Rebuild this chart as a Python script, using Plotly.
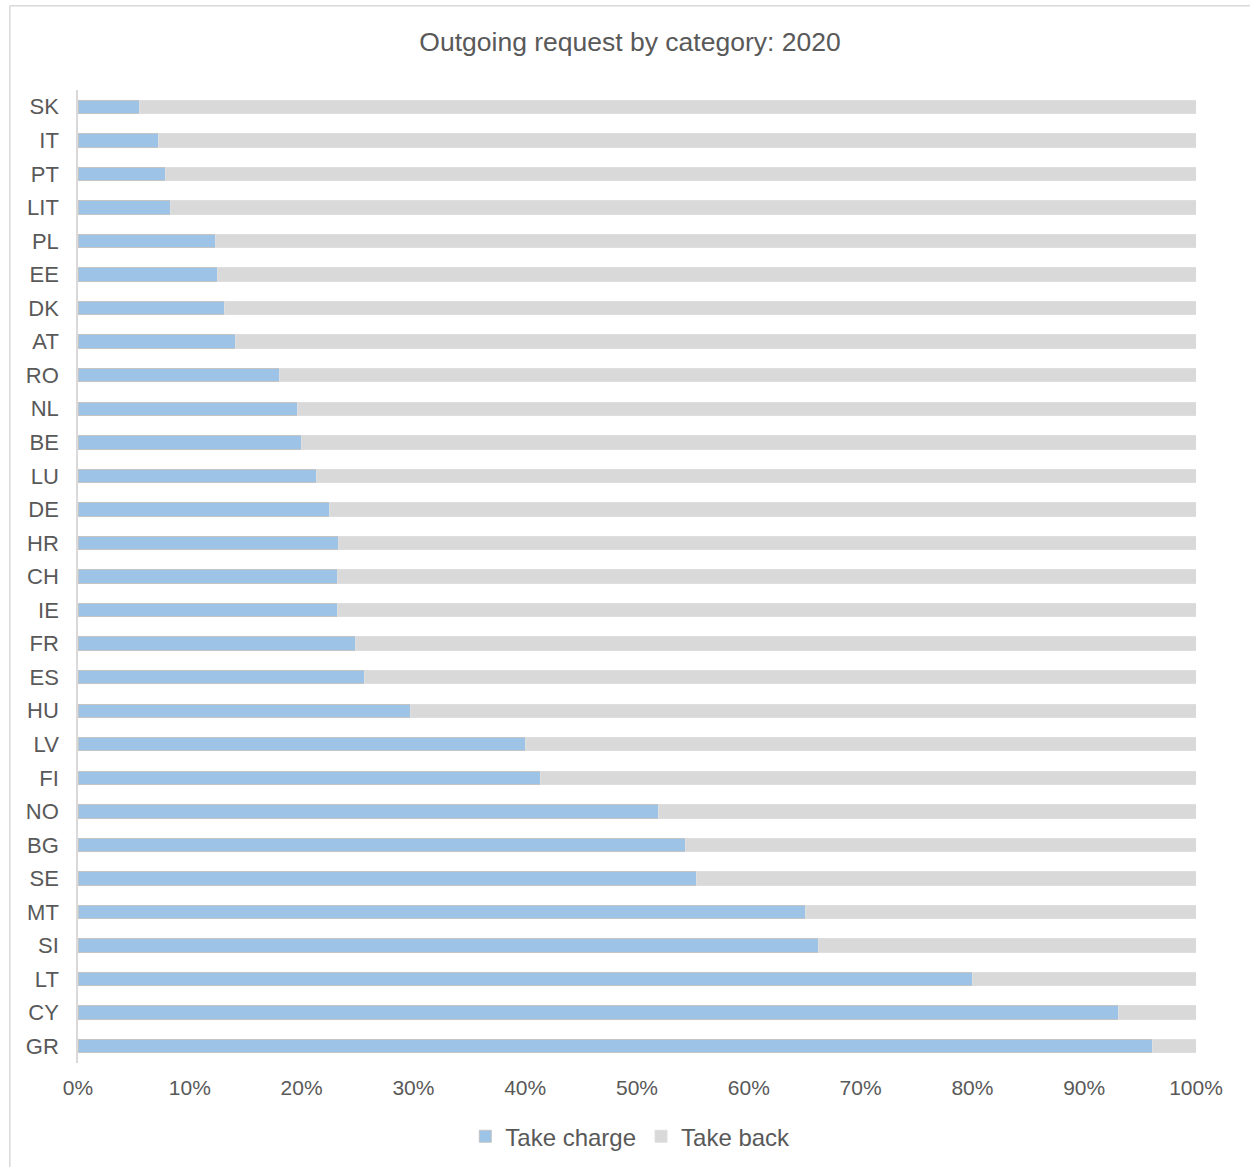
import plotly.graph_objects as go

# Outgoing requests 2020: share of "Take charge" vs "Take back" by country (%)
countries = ["SK", "IT", "PT", "LIT", "PL", "EE", "DK", "AT", "RO", "NL",
             "BE", "LU", "DE", "HR", "CH", "IE", "FR", "ES", "HU", "LV",
             "FI", "NO", "BG", "SE", "MT", "SI", "LT", "CY", "GR"]
take_charge = [5.5, 7.2, 7.8, 8.3, 12.3, 12.5, 13.1, 14.1, 18.0, 19.6,
               20.0, 21.3, 22.5, 23.3, 23.2, 23.2, 24.8, 25.6, 29.7, 40.0,
               41.4, 51.9, 54.3, 55.3, 65.1, 66.2, 80.0, 93.1, 96.1]
take_back = [round(100 - v, 1) for v in take_charge]
x_ticks = [0, 10, 20, 30, 40, 50, 60, 70, 80, 90, 100]
x_tick_text = [f"{t}%" for t in x_ticks]

TEXT = "#595959"
FONT = "Liberation Sans, Arial, sans-serif"

fig = go.Figure()
fig.add_trace(go.Bar(
    name="Take charge", y=countries, x=take_charge, orientation="h",
    width=0.4,
    marker=dict(color="#9dc3e6", line=dict(color="#c4c4c4", width=1)),
))
fig.add_trace(go.Bar(
    name="Take back", y=countries, x=take_back, orientation="h",
    width=0.4,
    marker=dict(color="#d9d9d9", line=dict(color="#dedede", width=1)),
))

# outer chart frame (top and left edges visible)
fig.add_shape(type="line", xref="paper", yref="paper",
              x0=-0.061, x1=-0.061, y0=-0.2, y1=1.0865,
              line=dict(color="#d9d9d9", width=1.5))
fig.add_shape(type="line", xref="paper", yref="paper",
              x0=-0.061, x1=1.2, y0=1.0865, y1=1.0865,
              line=dict(color="#d9d9d9", width=1.5))

fig.update_layout(
    width=1250, height=1167,
    barmode="stack",
    bargap=0.6,
    plot_bgcolor="white", paper_bgcolor="white",
    margin=dict(l=78, r=54, t=90, b=104),
    font=dict(family=FONT, color=TEXT, size=21),
    title=dict(text="Outgoing request by category: 2020",
               x=0.504, xanchor="center", y=0.964, yanchor="middle",
               font=dict(size=26.5, color=TEXT, family=FONT)),
    xaxis=dict(range=[0, 100], tickvals=x_ticks, ticktext=x_tick_text,
               showgrid=False, zeroline=False, showline=False,
               ticks="", ticklabelstandoff=10,
               tickfont=dict(size=21, color=TEXT)),
    yaxis=dict(autorange="reversed", showgrid=False, zeroline=False,
               showline=True, linecolor="#d9d9d9", linewidth=1.5,
               ticks="", ticklabelstandoff=13,
               tickfont=dict(size=22, color=TEXT)),
    legend=dict(orientation="h", x=0.494, xanchor="center",
                yref="container", y=0.026, yanchor="middle",
                font=dict(size=24, color=TEXT), itemwidth=30,
                traceorder="normal"),
)

fig.write_html("out.html")
